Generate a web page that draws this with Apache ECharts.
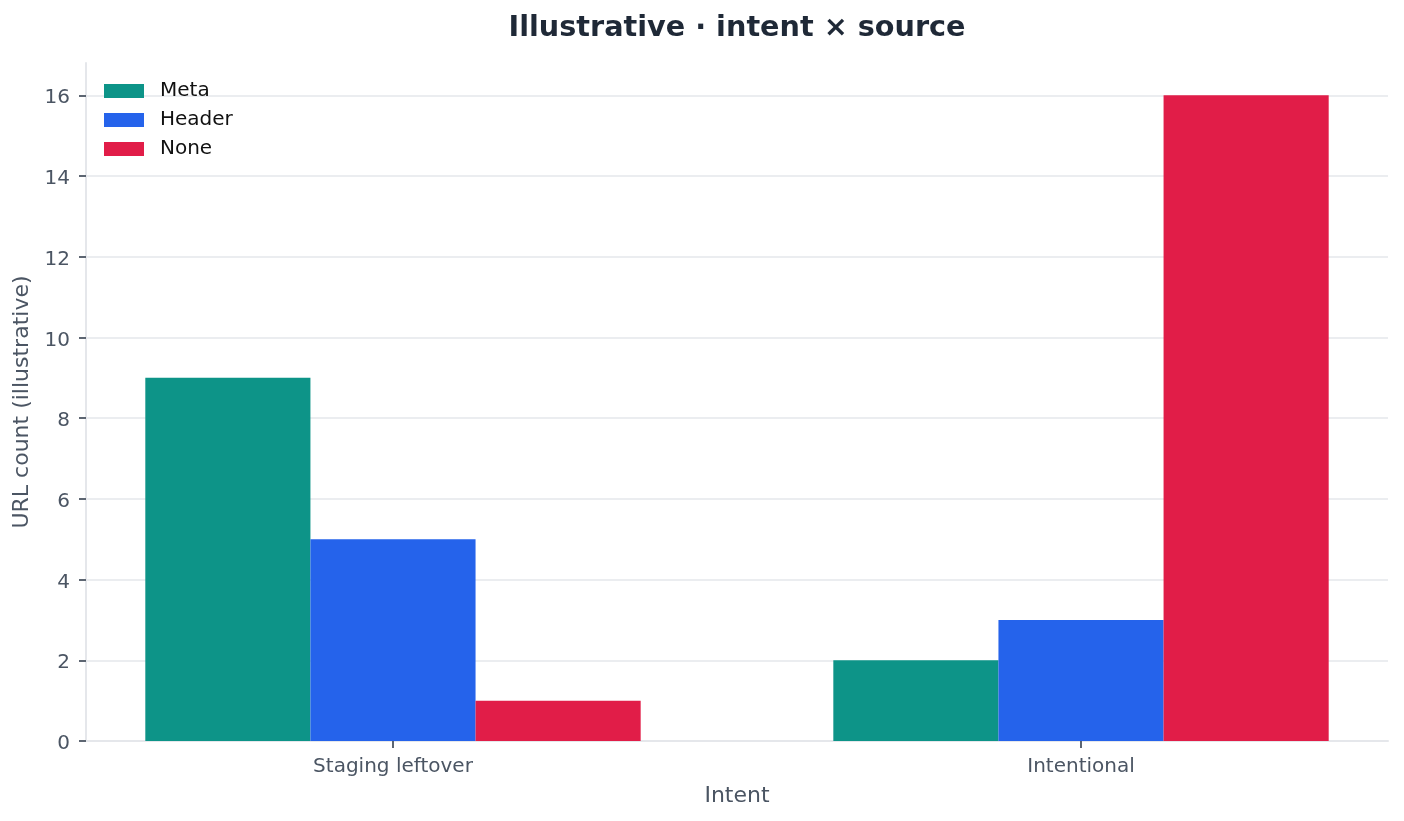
<!DOCTYPE html>
<html>
<head>
<meta charset="utf-8">
<title>Illustrative · intent × source</title>
<script src="https://cdn.jsdelivr.net/npm/echarts@6/dist/echarts.min.js"></script>
<style>
  html, body { margin: 0; padding: 0; background: #ffffff; }
  #chart { width: 1404px; height: 821px; }
</style>
</head>
<body>
<div id="chart"></div>
<script>
// data
var intents = ['Staging leftover', 'Intentional'];
var sources = ['Meta', 'Header', 'None'];
var metaCounts = [9, 2];
var headerCounts = [5, 3];
var noneCounts = [1, 16];
var yTicks = [0, 2, 4, 6, 8, 10, 12, 14, 16];
var xTicks = [0, 1];

var colors = ['#0d9488', '#2563eb', '#e11d48'];
var textColor = '#4b5563';
var font = 'DejaVu Sans';

var chartDom = document.getElementById('chart');
var myChart = echarts.init(chartDom, null, { renderer: 'canvas' });

function toPoints(values) {
  return values.map(function (v, i) { return [i, v]; });
}

var seriesValues = [metaCounts, headerCounts, noneCounts];

var option = {
  backgroundColor: '#ffffff',
  animation: false,
  color: colors,
  title: {
    text: 'Illustrative · intent × source',
    left: 737,
    top: 14,
    padding: 0,
    textAlign: 'center',
    textStyle: {
      fontFamily: font,
      fontSize: 28.7,
      fontWeight: 'bold',
      color: '#1f2937'
    }
  },
  legend: {
    orient: 'vertical',
    left: 104,
    top: 81,
    padding: 0,
    itemWidth: 40,
    itemHeight: 14,
    itemGap: 9,
    icon: 'rect',
    data: sources,
    textStyle: {
      fontFamily: font,
      fontSize: 20,
      color: '#111111',
      padding: [0, 0, 0, 11]
    }
  },
  grid: {
    left: 86,
    right: 16,
    top: 63,
    bottom: 80,
    containLabel: false
  },
  xAxis: {
    type: 'value',
    min: -0.4462,
    max: 1.4462,
    name: 'Intent',
    nameLocation: 'middle',
    nameGap: 44,
    nameTextStyle: { fontFamily: font, fontSize: 22, color: textColor },
    axisLine: { show: true, onZero: false, lineStyle: { color: '#e5e7eb', width: 2 } },
    axisTick: {
      show: true,
      customValues: xTicks,
      length: 7,
      lineStyle: { color: textColor, width: 1.8 }
    },
    axisLabel: {
      customValues: xTicks,
      margin: 16,
      fontFamily: font,
      fontSize: 20,
      color: textColor,
      formatter: function (v) { return intents[Math.round(v)]; }
    },
    splitLine: { show: false }
  },
  yAxis: {
    type: 'value',
    min: 0,
    max: 16.8,
    name: 'URL count (illustrative)',
    nameLocation: 'middle',
    nameGap: 49,
    nameTextStyle: { fontFamily: font, fontSize: 22, color: textColor },
    axisLine: { show: true, onZero: false, lineStyle: { color: '#e5e7eb', width: 2 } },
    axisTick: {
      show: true,
      customValues: yTicks,
      length: 7,
      lineStyle: { color: textColor, width: 1.8 }
    },
    axisLabel: {
      customValues: yTicks,
      margin: 16,
      verticalAlign: 'top',
      lineHeight: 6,
      fontFamily: font,
      fontSize: 20,
      color: textColor
    },
    splitLine: { show: true, lineStyle: { color: '#e5e7eb', width: 1.6 } }
  },
  series: sources.map(function (name, k) {
    return {
      name: name,
      type: 'bar',
      barWidth: '24%',
      barGap: '0%',
      data: toPoints(seriesValues[k]),
      itemStyle: { color: colors[k] }
    };
  })
};

myChart.setOption(option);
</script>
</body>
</html>
